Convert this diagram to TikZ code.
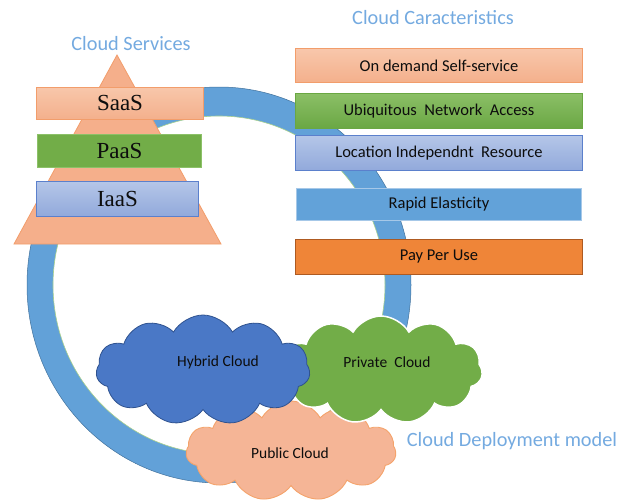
\documentclass[tikz,border=0pt]{standalone}
\usepackage{fontspec}
\setmainfont{Carlito}
\newfontfamily\timesfont{Liberation Serif}
\usetikzlibrary{shapes.symbols,shapes.geometric}
\definecolor{ringblue}{HTML}{62A1D8}
\definecolor{ringedge}{HTML}{41719C}
\definecolor{ringinner}{HTML}{A9D18E}
\definecolor{titleblue}{HTML}{74AAE0}
\definecolor{salmonTop}{HTML}{F8C7AB}
\definecolor{salmonBot}{HTML}{F4B08C}
\definecolor{salmonEdge}{HTML}{F29D6B}
\definecolor{tri}{HTML}{F5AF8B}
\definecolor{greenFill}{HTML}{72AD48}
\definecolor{greenEdge}{HTML}{8CC168}
\definecolor{greenTop}{HTML}{8BBF66}
\definecolor{greenBot}{HTML}{6AA743}
\definecolor{lavTop}{HTML}{B4C6E8}
\definecolor{lavBot}{HTML}{91A9DB}
\definecolor{lavEdge}{HTML}{5B80CC}
\definecolor{rapidFill}{HTML}{62A2D9}
\definecolor{rapidEdge}{HTML}{A6C8E8}
\definecolor{payFill}{HTML}{EF8538}
\definecolor{payEdge}{HTML}{AE5A21}
\definecolor{hybFill}{HTML}{4A78C6}
\definecolor{hybEdge}{HTML}{2F528F}
\definecolor{pubFill}{HTML}{F5B596}
\definecolor{pubEdge}{HTML}{F4A36B}
\definecolor{txt}{HTML}{0D0D0D}
\tikzset{
  title/.style={text=titleblue, font=\fontsize{20.3}{23}\selectfont, inner sep=0pt},
  leftbox/.style={draw, line width=0.9pt, inner sep=0pt, font=\timesfont\fontsize{23}{26}\selectfont, text=txt},
  rightbox/.style={draw, line width=0.9pt, inner sep=0pt, font=\fontsize{16.5}{19}\selectfont, text=txt},
  salmonbox/.style={top color=salmonTop, bottom color=salmonBot, draw=salmonEdge},
  greenbox/.style={fill=greenFill, draw=greenEdge},
  greengrad/.style={top color=greenTop, bottom color=greenBot, draw=greenBot},
  lavbox/.style={top color=lavTop, bottom color=lavBot, draw=lavEdge},
  rapidbox/.style={fill=rapidFill, draw=rapidEdge},
  paybox/.style={fill=payFill, draw=payEdge},
  cloudshape/.style={cloud, cloud puffs=11, cloud puff arc=120, cloud ignores aspect, inner sep=0pt},
  cloudtext/.style={font=\fontsize{15.5}{18}\selectfont, text=txt, inner sep=0pt}
}
\begin{document}
\begin{tikzpicture}[x=1pt,y=-1pt]
\useasboundingbox (0,0) rectangle (628,501);
% ring
\fill[ringblue, even odd rule] (219,285) ellipse [x radius=192, y radius=198]
                               (219,285) ellipse [x radius=166, y radius=169];
\draw[ringedge, line width=0.5pt] (219,285) ellipse [x radius=192, y radius=198];
\draw[ringinner, line width=0.6pt] (219,285) ellipse [x radius=166, y radius=169];
% pyramid
\fill[tri, draw=salmonEdge, line width=0.8pt] (117,55) -- (221,244) -- (14,244) -- cycle;
% titles
\node[title] (tServices) at (131,44) {Cloud Services};
\node[title] (tChar) at (433,18) {Cloud Caracteristics};
\node[title] (tDeploy) at (512,441) {Cloud Deployment model};
% left boxes
\node[leftbox, salmonbox, minimum width=167pt, minimum height=32pt] (saas) at (120,103) {SaaS};
\node[leftbox, greenbox, minimum width=164pt, minimum height=33pt] (paas) at (119.5,151) {PaaS};
\node[leftbox, lavbox, minimum width=162pt, minimum height=35pt] (iaas) at (117.5,199) {IaaS};
% right boxes
\node[rightbox, salmonbox, minimum width=287pt, minimum height=34pt] (ondemand) at (439,65.5) {On demand Self-service};
\node[rightbox, greengrad, minimum width=287pt, minimum height=35pt] (ubiq) at (439,111) {Ubiquitous\ \ Network\ \ Access};
\node[rightbox, lavbox, minimum width=287pt, minimum height=35pt] (loc) at (439,153) {Location Independnt\ \ Resource};
\node[rightbox, rapidbox, minimum width=285pt, minimum height=32pt] (rapid) at (439,204.5) {Rapid Elasticity};
\node[rightbox, paybox, minimum width=287pt, minimum height=35pt] (pay) at (439,256.5) {Pay Per Use};
% clouds
\node[cloudshape, fill=pubFill, draw=pubEdge, line width=0.9pt, minimum width=210pt, minimum height=100pt] (public) at (291,451) {};
\node[cloudshape, fill=greenFill, draw=white, line width=1.5pt, minimum width=203pt, minimum height=108pt] (private) at (381,370) {};
\node[cloudshape, fill=hybFill, draw=hybEdge, line width=0.8pt, minimum width=214pt, minimum height=110pt] (hybrid) at (203,370) {};
\node[cloudtext] (hybridText) at (218,362) {Hybrid Cloud};
\node[cloudtext] (privateText) at (387,362) {Private\ \ Cloud};
\node[cloudtext] (publicText) at (290,453) {Public Cloud};
\end{tikzpicture}
\end{document}
